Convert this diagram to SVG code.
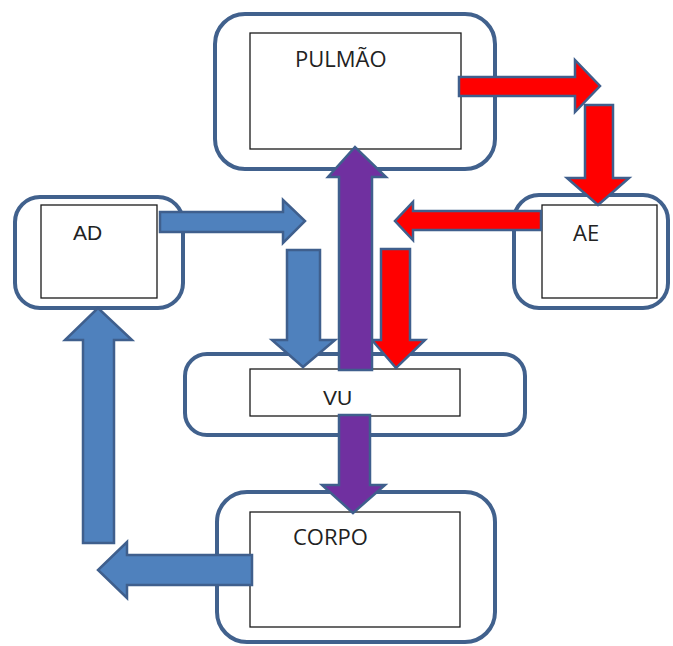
<svg xmlns="http://www.w3.org/2000/svg" width="673" height="646" viewBox="0 0 673 646">
<style>
.outer{fill:#fff;stroke:#41618d;stroke-width:4}
.inner{fill:#fff;stroke:#1a1a1a;stroke-width:1.3}
.lbl{font-family:"Open Sans","Liberation Sans",sans-serif;font-size:22px;fill:#222}
.lbl2{font-family:"Liberation Sans",Arial,sans-serif;font-size:21px;fill:#222}
.arr{stroke:#3f5f8d;stroke-width:2.5;stroke-linejoin:miter}
.red{fill:#ff0000}
.blue{fill:#4f81bd}
.purple{fill:#7030a0}
</style>
<rect width="673" height="646" fill="#fff"/>
<g id="pulmao">
<rect class="outer" x="215" y="14" width="280" height="155" rx="30"/>
<rect class="inner" x="250" y="33" width="211" height="116"/>
<text class="lbl" x="295" y="67">PULMÃO</text>
</g>
<g id="ad">
<rect class="outer" x="15" y="197" width="168" height="111" rx="25"/>
<rect class="inner" x="41" y="205" width="116" height="93"/>
<text class="lbl2" x="73" y="240">AD</text>
</g>
<g id="ae">
<rect class="outer" x="514" y="195" width="154" height="113" rx="25"/>
<rect class="inner" x="542" y="205" width="115" height="93"/>
<text class="lbl" x="573" y="241">AE</text>
</g>
<g id="vu">
<rect class="outer" x="185" y="354" width="340" height="81" rx="22"/>
<rect class="inner" x="250" y="369" width="210" height="47"/>
<text class="lbl2" x="323" y="405">VU</text>
</g>
<g id="corpo">
<rect class="outer" x="217" y="492" width="278" height="150" rx="30"/>
<rect class="inner" x="250" y="512" width="210" height="115"/>
<text class="lbl" x="293" y="545">CORPO</text>
</g>
<g id="connectors">
<polygon class="arr red" points="459,77 575,77 575,60 600,86 575,112 575,96 459,96"/>
<polygon class="arr red" points="585,105 613,105 613,178 629,178 598,205 567,178 585,178"/>
<polygon class="arr red" points="541,211 413,211 413,202 395,221 413,240 413,230 541,230"/>
<polygon class="arr red" points="381,249 410,249 410,340 425,340 396,368 372,340 381,340"/>
<polygon class="arr blue" points="160,212 283,212 283,200 305,221 283,243 283,232 160,232"/>
<polygon class="arr blue" points="287,250 320,250 320,340 335,340 303,367 272,340 287,340"/>
<polygon class="arr purple" points="339,370 339,177 328,177 355,147 386,177 372,177 372,370"/>
<polygon class="arr purple" points="339,415 370,415 370,485 385,485 353,513 322,485 339,485"/>
<polygon class="arr blue" points="83,543 83,340 65,340 98,308 132,340 114,340 114,543"/>
<polygon class="arr blue" points="252,555 127,555 127,542 98,570 127,598 127,585 252,585"/>
</g>
</svg>
